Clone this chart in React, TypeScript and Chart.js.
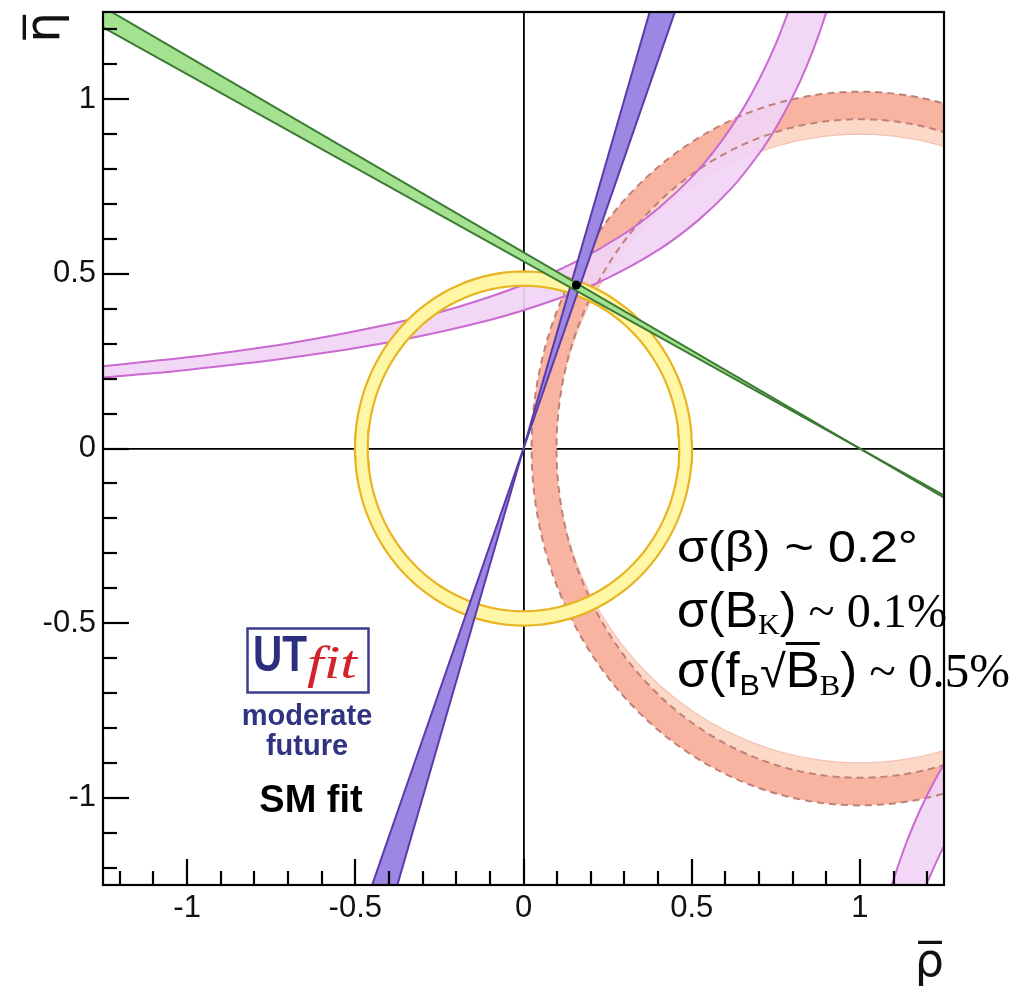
import React, { useEffect, useRef } from 'react';
import { Chart, registerables } from 'chart.js';

Chart.register(...registerables);

// ---------------- axes ----------------
const RHO_LIMITS = [-1.25, 1.25];
const ETA_LIMITS = [-1.25, 1.25];
const TICK_VALUES = [
  -1.2, -1.1, -1.0, -0.9, -0.8, -0.7, -0.6, -0.5, -0.4, -0.3, -0.2, -0.1, 0,
  0.1, 0.2, 0.3, 0.4, 0.5, 0.6, 0.7, 0.8, 0.9, 1.0, 1.1, 1.2,
];
const LABELLED_TICKS = [-1, -0.5, 0, 0.5, 1];
const RHO_TITLE = 'ρ\u0305';
const ETA_TITLE = 'η\u0305';

// ---------------- constraints (rho, eta) ----------------
// |Vub/Vcb| ring, centred on the origin: [rho radius, eta radius]
const VUB_CENTER = [0, 0];
const VUB_OUTER_RADII = [0.501, 0.507];
const VUB_INNER_RADII = [0.463, 0.466];

// Delta m_d ring (dark, dashed edges) centred on (1,0)
const DMD_CENTER = [1, 0];
const DMD_OUTER_RADII = [0.976, 1.022];
const DMD_INNER_RADII = [0.902, 0.943];
// Delta m_s / Delta m_d ring (light) centred on (1,0)
const DMS_CENTER = [1, 0];
const DMS_OUTER_RADII = [0.95, 0.99];
const DMS_INNER_RADII = [0.905, 0.9];

// epsilon_K band, main branch: two edges
const EPSK_UPPER_EDGE = [
  [-1.3, 0.231], [-1.0, 0.261], [-0.7, 0.301], [-0.4, 0.356], [-0.2, 0.404],
  [0.0, 0.469], [0.15, 0.532], [0.3, 0.615], [0.4, 0.687], [0.5, 0.777],
  [0.58, 0.869], [0.65, 0.969], [0.7, 1.056], [0.75, 1.159], [0.79, 1.258], [0.81, 1.314],
];
const EPSK_LOWER_EDGE = [
  [-1.3, 0.199], [-1.0, 0.225], [-0.7, 0.259], [-0.4, 0.304], [-0.1, 0.368],
  [0.1, 0.428], [0.25, 0.488], [0.4, 0.568], [0.52, 0.654], [0.62, 0.747],
  [0.7, 0.844], [0.75, 0.918], [0.8, 1.007], [0.84, 1.091], [0.88, 1.191], [0.92, 1.311],
];
// epsilon_K band, second branch (bottom right)
const EPSK_BRANCH2_EDGE_A = [
  [1.075, -1.314], [1.1, -1.234], [1.14, -1.124], [1.18, -1.033], [1.22, -0.955], [1.26, -0.888], [1.3, -0.83],
];
const EPSK_BRANCH2_EDGE_B = [[1.17, -1.31], [1.2, -1.243], [1.241, -1.156], [1.3, -1.045]];

// sin(2beta) band: two straight edges through (1,0)
const BETA_EDGE_STEEP = [[-1.35, 1.3207], [1.35, -0.1967]];
const BETA_EDGE_SHALLOW = [[-1.35, 1.2596], [1.35, -0.1876]];

// gamma wedge: two straight edges through the origin
const GAMMA_EDGE_STEEP = [[-0.405, -1.35], [0.405, 1.35]];
const GAMMA_EDGE_SHALLOW = [[-0.486, -1.35], [0.486, 1.35]];

// fitted apex
const FIT_POINT = [0.157, 0.468];

// ---------------- helpers ----------------
const SANS = '"Liberation Sans", Arial, Helvetica, sans-serif';
const SERIF = '"Liberation Serif", "Times New Roman", serif';
const ELLIPSE_STEPS = 160;

const toXY = (pts: number[][]) => pts.map(([x, y]) => ({ x, y }));

function ellipse(c: number[], r: number[]) {
  const pts: { x: number; y: number }[] = [];
  for (let i = 0; i <= ELLIPSE_STEPS; i++) {
    const t = (2 * Math.PI * i) / ELLIPSE_STEPS;
    pts.push({ x: c[0] + r[0] * Math.cos(t), y: c[1] + r[1] * Math.sin(t) });
  }
  return pts;
}
function ring(c: number[], ro: number[], ri: number[]) {
  return [...ellipse(c, ro), ...ellipse(c, ri).reverse()];
}
function band(a: number[][], b: number[][]) {
  return [...toXY(a), ...toXY(b).reverse()];
}

let ORDER = 1000;
function fillSet(label: string, data: any[], color: string, tension = 0) {
  return {
    label, data, showLine: true, fill: 'shape', backgroundColor: color,
    borderColor: 'rgba(0,0,0,0)', borderWidth: 0, pointRadius: 0, tension,
    clip: 0, order: ORDER--,
  };
}
function lineSet(label: string, data: any[], color: string, width: number, dash: number[] = [], tension = 0) {
  return {
    label, data, showLine: true, fill: false, borderColor: color, borderWidth: width,
    borderDash: dash, pointRadius: 0, tension, clip: 0, order: ORDER--,
  };
}

type Run = { text: string; font: string; dy?: number; overline?: boolean; color?: string };
function drawRuns(ctx: CanvasRenderingContext2D, runs: Run[], x: number, y: number, width?: number, align = 'left') {
  ctx.save();
  let total = 0;
  const widths = runs.map((r) => {
    ctx.font = r.font;
    const w = ctx.measureText(r.text).width;
    total += w;
    return w;
  });
  const sx = width ? width / total : 1;
  const startX = align === 'center' ? x - (total * sx) / 2 : x;
  ctx.translate(startX, y);
  ctx.scale(sx, 1);
  ctx.textAlign = 'left';
  ctx.textBaseline = 'alphabetic';
  let cx = 0;
  runs.forEach((r, i) => {
    ctx.font = r.font;
    ctx.fillStyle = r.color || '#000';
    ctx.fillText(r.text, cx, r.dy || 0);
    if (r.overline) {
      const m = ctx.measureText(r.text);
      const top = -m.actualBoundingBoxAscent - 7;
      ctx.fillRect(cx, top - 3, widths[i], 3);
    }
    cx += widths[i];
  });
  ctx.restore();
}

const framePlugin = {
  id: 'frameAndTicks',
  afterDraw(chart: any) {
    const { ctx, chartArea: a, scales } = chart;
    const x = scales.x;
    const y = scales.y;
    ctx.save();
    ctx.strokeStyle = '#000';
    ctx.lineWidth = 2.2;
    for (const v of TICK_VALUES) {
      const len = LABELLED_TICKS.includes(v) ? 26 : 14;
      const px = Math.round(x.getPixelForValue(v));
      ctx.beginPath();
      ctx.moveTo(px, a.bottom);
      ctx.lineTo(px, a.bottom - len);
      ctx.stroke();
      const py = Math.round(y.getPixelForValue(v));
      ctx.beginPath();
      ctx.moveTo(a.left, py);
      ctx.lineTo(a.left + len, py);
      ctx.stroke();
    }
    ctx.strokeRect(a.left, a.top, a.right - a.left, a.bottom - a.top);
    ctx.restore();

    // text block
    drawRuns(ctx, [{ text: 'σ(β) ~ 0.2°', font: `44px ${SANS}` }], 677, 562, 241);
    drawRuns(ctx, [
      { text: 'σ(B', font: `50px ${SANS}` },
      { text: 'K', font: `30px ${SERIF}`, dy: 7 },
      { text: ')', font: `50px ${SANS}` },
      { text: ' ~ 0.1%', font: `48px ${SERIF}` },
    ], 677, 627, 270);
    drawRuns(ctx, [
      { text: 'σ(f', font: `50px ${SANS}` },
      { text: 'B', font: `30px ${SANS}`, dy: 8 },
      { text: '√', font: `46px ${SANS}` },
      { text: 'B', font: `50px ${SANS}`, overline: true },
      { text: 'B', font: `30px ${SERIF}`, dy: 8 },
      { text: ')', font: `50px ${SANS}` },
      { text: ' ~ 0.5%', font: `48px ${SERIF}` },
    ], 677, 687, 333);

    // UTfit logo
    ctx.save();
    ctx.strokeStyle = '#3b3e8f';
    ctx.lineWidth = 2.5;
    ctx.strokeRect(247.5, 628.5, 121, 64);
    ctx.restore();
    drawRuns(ctx, [{ text: 'UT', font: `bold 50px ${SANS}`, color: '#2c2f80' }], 253, 671, 54);
    drawRuns(ctx, [{ text: 'fit', font: `italic 46px ${SERIF}`, color: '#d2232a' }], 307, 678, 50);
    drawRuns(ctx, [{ text: 'moderate', font: `bold 29px ${SANS}`, color: '#30337f' }], 307, 725, undefined, 'center');
    drawRuns(ctx, [{ text: 'future', font: `bold 29px ${SANS}`, color: '#30337f' }], 307, 755, undefined, 'center');
    drawRuns(ctx, [{ text: 'SM fit', font: `bold 38px ${SANS}`, color: '#000' }], 311, 812, undefined, 'center');
  },
};

function buildDatasets() {
  ORDER = 1000;
  const ds: any[] = [];
  // bottom layers first
  ds.push(fillSet('Δms/Δmd', ring(DMS_CENTER, DMS_OUTER_RADII, DMS_INNER_RADII), '#fcd8c9'));
  ds.push(lineSet('Δms/Δmd inner', ellipse(DMS_CENTER, DMS_INNER_RADII), '#f4c2b2', 1.2));
  ds.push(fillSet('Δmd', ring(DMD_CENTER, DMD_OUTER_RADII, DMD_INNER_RADII), '#f8b3a1'));
  ds.push(fillSet('εK', band(EPSK_UPPER_EDGE, EPSK_LOWER_EDGE), 'rgba(241,212,245,0.92)', 0.3));
  ds.push(fillSet('εK branch 2', band(EPSK_BRANCH2_EDGE_A, EPSK_BRANCH2_EDGE_B), 'rgba(241,212,245,0.92)', 0.3));
  ds.push(lineSet('Δmd outer', ellipse(DMD_CENTER, DMD_OUTER_RADII), '#bf8178', 2, [7, 5]));
  ds.push(lineSet('Δmd inner', ellipse(DMD_CENTER, DMD_INNER_RADII), '#bf8178', 2, [7, 5]));
  ds.push(lineSet('εK upper', toXY(EPSK_UPPER_EDGE), '#c96bd1', 2, [], 0.3));
  ds.push(lineSet('εK lower', toXY(EPSK_LOWER_EDGE), '#c96bd1', 2, [], 0.3));
  ds.push(lineSet('εK b2 A', toXY(EPSK_BRANCH2_EDGE_A), '#c96bd1', 2, [], 0.3));
  ds.push(lineSet('εK b2 B', toXY(EPSK_BRANCH2_EDGE_B), '#c96bd1', 2, [], 0.3));
  ds.push(fillSet('|Vub/Vcb|', ring(VUB_CENTER, VUB_OUTER_RADII, VUB_INNER_RADII), '#fff6a6'));
  ds.push(lineSet('|Vub/Vcb| outer', ellipse(VUB_CENTER, VUB_OUTER_RADII), '#e8b422', 2.2));
  ds.push(lineSet('|Vub/Vcb| inner', ellipse(VUB_CENTER, VUB_INNER_RADII), '#e8b422', 2.2));
  ds.push(fillSet('γ', [...toXY(GAMMA_EDGE_STEEP), ...toXY(GAMMA_EDGE_SHALLOW).reverse()], '#9c87e3'));
  ds.push(lineSet('γ steep', toXY(GAMMA_EDGE_STEEP), '#5b3ba8', 2));
  ds.push(lineSet('γ shallow', toXY(GAMMA_EDGE_SHALLOW), '#5b3ba8', 2));
  ds.push(fillSet('sin2β', [...toXY(BETA_EDGE_STEEP), ...toXY(BETA_EDGE_SHALLOW).reverse()], '#a4e191'));
  ds.push(lineSet('sin2β steep', toXY(BETA_EDGE_STEEP), '#3b7a33', 2));
  ds.push(lineSet('sin2β shallow', toXY(BETA_EDGE_SHALLOW), '#3b7a33', 2));
  ds.push({
    label: 'fit', data: [{ x: FIT_POINT[0], y: FIT_POINT[1] }], showLine: false,
    pointRadius: 4.5, pointBackgroundColor: '#000', pointBorderColor: '#000', pointBorderWidth: 0,
    clip: 0, order: ORDER--,
  });
  return ds;
}

export default function App() {
  const ref = useRef<HTMLCanvasElement>(null);
  useEffect(() => {
    document.body.style.margin = '0';
    const tickFont = { family: SANS, size: 31 };
    const gridOpts = {
      drawTicks: false,
      color: (c: any) => (c.tick && Math.abs(c.tick.value) < 1e-9 ? '#000' : 'rgba(0,0,0,0)'),
      lineWidth: 1.8,
    };
    const chart = new Chart(ref.current as HTMLCanvasElement, {
      type: 'scatter',
      data: { datasets: buildDatasets() },
      plugins: [framePlugin],
      options: {
        animation: false,
        responsive: false,
        maintainAspectRatio: false,
        devicePixelRatio: 1,
        events: [],
        layout: { padding: { top: 12, right: 76, left: 0, bottom: 0 } },
        elements: { line: { capBezierPoints: false } },
        plugins: { legend: { display: false }, tooltip: { enabled: false } },
        scales: {
          x: {
            type: 'linear',
            min: RHO_LIMITS[0],
            max: RHO_LIMITS[1],
            z: 1,
            afterBuildTicks: (s: any) => { s.ticks = TICK_VALUES.map((v) => ({ value: v })); },
            afterFit: (s: any) => { s.height = 109; s.paddingLeft = 0; s.paddingRight = 0; },
            grid: gridOpts,
            border: { display: false },
            ticks: {
              autoSkip: false, maxRotation: 0, padding: 5, color: '#111', font: tickFont,
              callback: (v: any) => (LABELLED_TICKS.includes(Number(v)) ? String(Number(v)) : ''),
            },
            title: {
              display: true, text: RHO_TITLE, align: 'end', color: '#111',
              font: { family: '"DejaVu Sans", sans-serif', size: 46 }, padding: { top: 0, bottom: 2 },
            },
          },
          y: {
            type: 'linear',
            min: ETA_LIMITS[0],
            max: ETA_LIMITS[1],
            z: 1,
            afterBuildTicks: (s: any) => { s.ticks = TICK_VALUES.map((v) => ({ value: v })); },
            afterFit: (s: any) => { s.width = 103; s.paddingTop = 0; s.paddingBottom = 0; },
            grid: gridOpts,
            border: { display: false },
            ticks: {
              autoSkip: false, padding: 7, color: '#111', font: tickFont,
              callback: (v: any) => (LABELLED_TICKS.includes(Number(v)) ? String(Number(v)) : ''),
            },
            title: {
              display: true, text: ETA_TITLE, align: 'end', color: '#111',
              font: { family: '"DejaVu Sans", sans-serif', size: 48 }, padding: { top: 18, bottom: 0 },
            },
          },
        },
      } as any,
    });
    return () => chart.destroy();
  }, []);
  return (
    <div style={{ width: 1020, height: 994 }}>
      <canvas ref={ref} width={1020} height={994} style={{ display: 'block' }} />
    </div>
  );
}
